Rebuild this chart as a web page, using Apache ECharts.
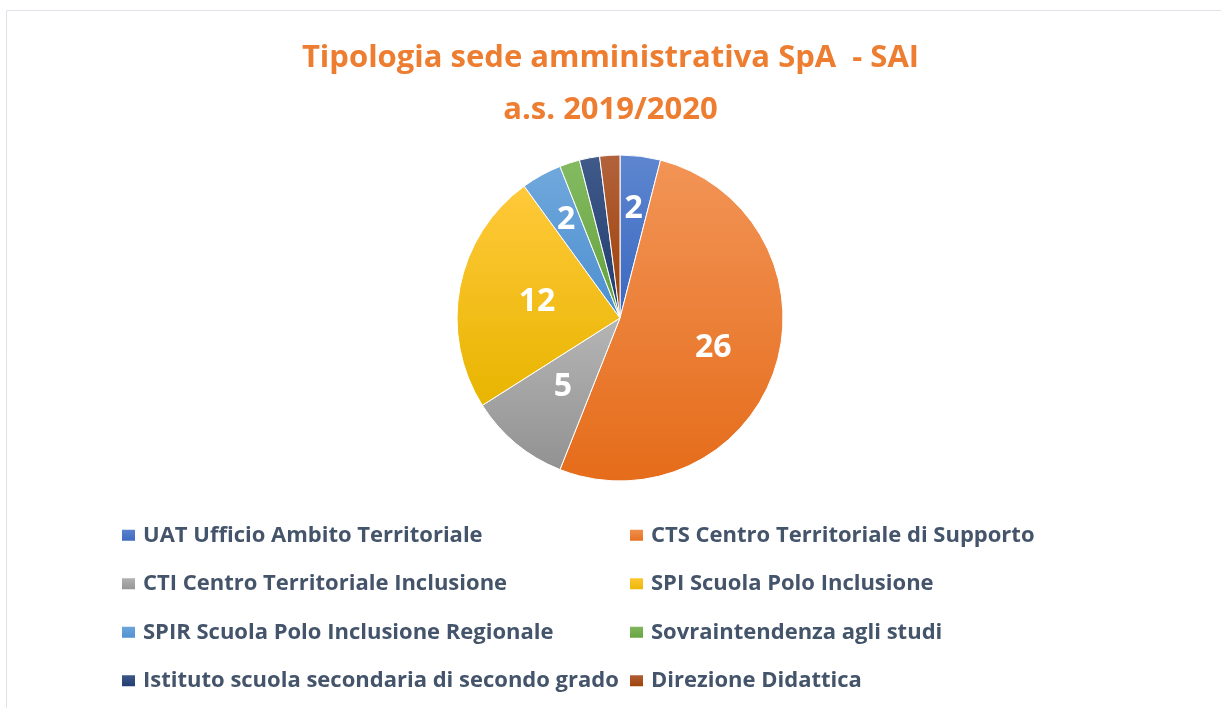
<!DOCTYPE html>
<html>
<head>
<meta charset="utf-8">
<script src="https://cdn.jsdelivr.net/npm/echarts@6/dist/echarts.min.js"></script>
<style>
  html, body { margin: 0; padding: 0; background: #fff; }
  #main { width: 1221px; height: 708px; }
</style>
</head>
<body>
<div id="main"></div>
<script>
const categories = [
  'UAT Ufficio Ambito Territoriale',
  'CTS Centro Territoriale di Supporto',
  'CTI Centro Territoriale Inclusione',
  'SPI Scuola Polo Inclusione',
  'SPIR Scuola Polo Inclusione Regionale',
  'Sovraintendenza agli studi',
  'Istituto scuola secondaria di secondo grado',
  'Direzione Didattica'
]
const values = [2, 26, 5, 12, 2, 1, 1, 1]

// gradient stops, top -> bottom, office-style palette
const topColors = ['#5E86D0', '#F29456', '#B5B5B5', '#FFC93A', '#70A8DC', '#84BB62', '#405A8A', '#B2623C']
const bottomColors = ['#3A68C0', '#E56C1A', '#929292', '#E8B500', '#4C8FD0', '#63A03A', '#1E3B6E', '#9E3F02']

// how far out the inside labels sit (1 = halfway to the rim)
const labelPush = [1.3, 1.16, 1.06, 1.0, 1.32, 1, 1, 1]

const cx = 620
const cy = 318
const fontFam = '"Open Sans", Lato, sans-serif'

const grad = (i) =>
  new echarts.graphic.LinearGradient(0, 0, 0, 1, [
    { offset: 0, color: topColors[i] },
    { offset: 1, color: bottomColors[i] }
  ])

const pieData = categories.map((name, i) => ({
  name: name,
  value: values[i],
  itemStyle: { color: grad(i) },
  label: { show: values[i] > 1 }
}))

const leftNames = [categories[0], categories[2], categories[4], categories[6]]
const rightNames = [categories[1], categories[3], categories[5], categories[7]]

const legendBase = {
  orient: 'vertical',
  top: 523,
  padding: 0,
  itemWidth: 15,
  itemHeight: 13,
  itemGap: 24,
  icon: 'rect',
  selectedMode: false,
  textStyle: {
    fontFamily: fontFam,
    fontWeight: 'bold',
    fontSize: 22,
    lineHeight: 24.5,
    color: '#44546A',
    padding: [0, 0, 0, 2]
  }
}

const myChart = echarts.init(document.getElementById('main'))

const option = {
  animation: false,
  title: {
    text: 'Tipologia sede amministrativa SpA  - SAI\na.s. 2019/2020',
    left: 'center',
    top: 27,
    textStyle: {
      fontFamily: fontFam,
      fontWeight: 'bold',
      fontSize: 31,
      lineHeight: 52,
      color: '#ED7D31'
    }
  },
  legend: [
    Object.assign({}, legendBase, { left: 120, data: leftNames }),
    Object.assign({}, legendBase, { left: 628, data: rightNames })
  ],
  graphic: [
    { type: 'line', shape: { x1: 6.5, y1: 10.5, x2: 1221, y2: 10.5 }, style: { stroke: '#DFE2E9', lineWidth: 1 } },
    { type: 'line', shape: { x1: 6.5, y1: 10.5, x2: 6.5, y2: 708 }, style: { stroke: '#DFE2E9', lineWidth: 1 } }
  ],
  series: [
    {
      type: 'pie',
      center: [cx, cy],
      radius: 163,
      startAngle: 90,
      clockwise: true,
      avoidLabelOverlap: false,
      itemStyle: {
        borderColor: '#ffffff',
        borderWidth: 1
      },
      label: {
        position: 'inside',
        color: '#ffffff',
        fontFamily: fontFam,
        fontWeight: 'bold',
        fontSize: 32,
        formatter: '{c}'
      },
      labelLine: { show: false },
      emphasis: { disabled: true },
      labelLayout: function (params) {
        const r = params.labelRect
        const lx = r.x + r.width / 2
        const ly = r.y + r.height / 2
        const k = labelPush[params.dataIndex]
        return {
          x: cx + (lx - cx) * k,
          y: cy + (ly - cy) * k
        }
      },
      data: pieData
    }
  ]
}

myChart.setOption(option)
</script>
</body>
</html>
